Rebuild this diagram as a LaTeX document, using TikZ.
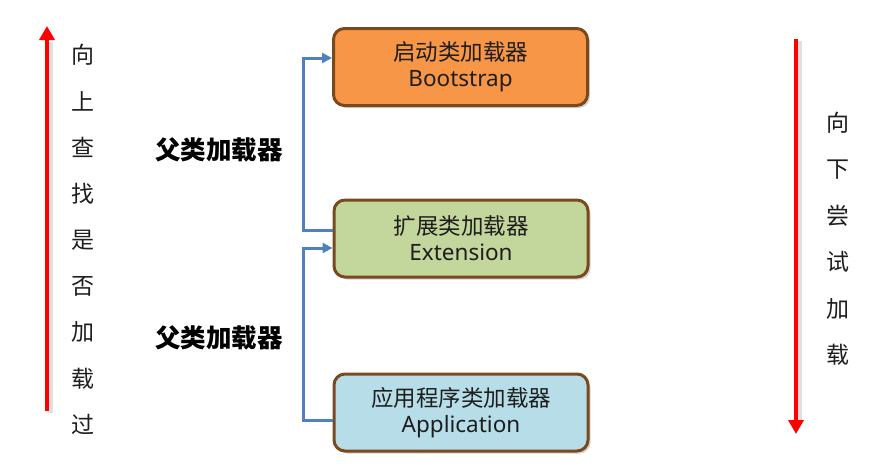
\documentclass[tikz,border=0pt]{standalone}
\usepackage{fontspec}
\setmainfont{Noto Sans CJK SC}
\newfontfamily\latinfont{Noto Sans}
\usetikzlibrary{arrows.meta,shadows}
\definecolor{bootfill}{HTML}{F79646}
\definecolor{extfill}{HTML}{C3D69B}
\definecolor{appfill}{HTML}{B7DEE8}
\definecolor{boxline}{HTML}{7A4A1E}
\definecolor{connblue}{HTML}{4F81BD}
\definecolor{textgray}{HTML}{1E1E1E}
\tikzset{
  loader/.style={draw=boxline, line width=3pt, rounded corners=11pt,
    minimum width=254pt, minimum height=77pt, align=center,
    font=\fontsize{22.5}{26}\selectfont, text=textgray,
    drop shadow={opacity=0.35, shadow xshift=2.5pt, shadow yshift=-2.5pt}},
  conn/.style={draw=connblue, line width=3pt},
  connarrow/.style={conn, -{Triangle[length=10pt,width=10pt]}},
  redarrow/.style={draw=red, line width=4.5pt, -{Triangle[length=14pt,width=15pt]}},
  redshadow/.style={draw=black!20, line width=5pt, opacity=0.6},
  sidechar/.style={font=\fontsize{23}{23}\selectfont, text=textgray},
  parentlabel/.style={font=\fontsize{25.5}{25.5}\selectfont\bfseries, text=black}
}
\begin{document}
\begin{tikzpicture}[x=1pt,y=-1pt]
\useasboundingbox (0,0) rectangle (889,469);

\node[loader, fill=bootfill] (boot) at (460.5,67) {启动类加载器\\{\latinfont Bootstrap}};
\node[loader, fill=extfill] (ext) at (461,238.5) {扩展类加载器\\{\latinfont Extension}};
\node[loader, fill=appfill] (app) at (461,412.5) {应用程序类加载器\\{\latinfont Application}};

\draw[connarrow] ([yshift=8.5pt]ext.west) -- (303,230) |- ([yshift=9pt]boot.west);
\draw[connarrow] ([yshift=-7.5pt]app.west) -- (303,420) |- ([yshift=-9.5pt]ext.west);

\node[parentlabel] (p1) at (219,150) {父类加载器};
\node[parentlabel] (p2) at (219,338) {父类加载器};

% left red arrow
\coordinate (lbot) at (47,411);
\coordinate (ltop) at (47,26);
\draw[redshadow] ([xshift=3pt,yshift=-2pt]lbot) -- ([xshift=3pt,yshift=-16pt]ltop);
\draw[redarrow] (lbot) -- (ltop);
\foreach \c [count=\i] in {向,上,查,找,是,否,加,载,过}{
  \node[sidechar] (l\i) at (83, 55+46.2*\i-46.2) {\c};
}

% right red arrow
\coordinate (rtop) at (796,39);
\coordinate (rbot) at (796,434);
\draw[redshadow] ([xshift=3pt,yshift=-2pt]rtop) -- ([xshift=3pt,yshift=14pt]rbot);
\draw[redarrow] (rtop) -- (rbot);
\foreach \c [count=\i] in {向,下,尝,试,加,载}{
  \node[sidechar] (r\i) at (838, 123+46.4*\i-46.4) {\c};
}
\end{tikzpicture}
\end{document}
